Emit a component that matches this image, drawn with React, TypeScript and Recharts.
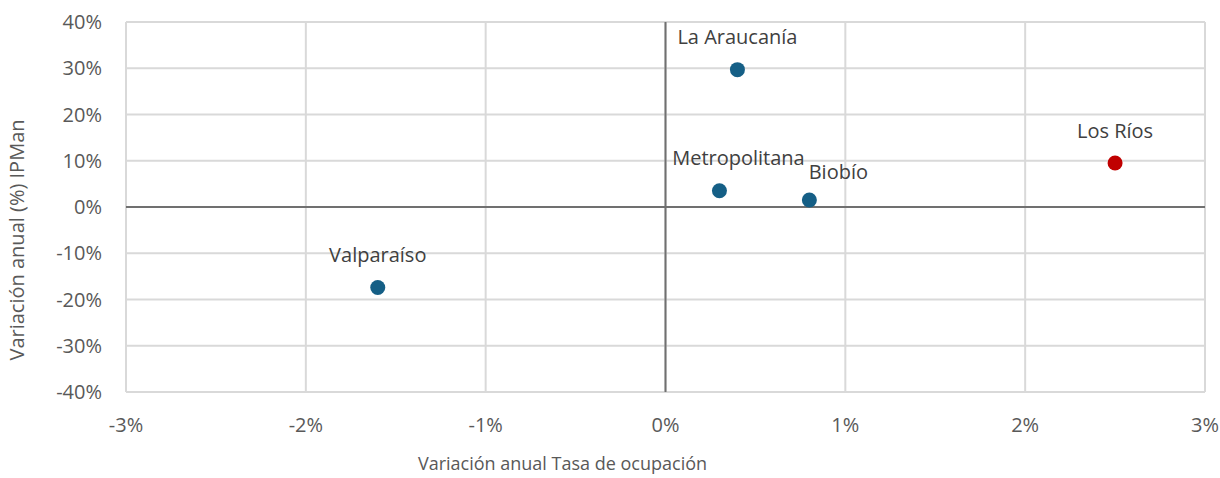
import { ScatterChart, Scatter, XAxis, YAxis, CartesianGrid, ReferenceLine, LabelList } from 'recharts'

const regions = ['La Araucanía', 'Metropolitana', 'Biobío', 'Los Ríos', 'Valparaíso']
const ocupacion = [0.4, 0.3, 0.8, 2.5, -1.6]
const ipman = [29.7, 3.5, 1.5, 9.5, -17.4]
const highlighted = ['Los Ríos']

const xTicks = [-3, -2, -1, 0, 1, 2, 3]
const yTicks = [-40, -30, -20, -10, 0, 10, 20, 30, 40]

const BLUE = '#155f86'
const RED = '#c00000'
const FONT = '"Open Sans", "Noto Sans", sans-serif'

// small label nudges so text doesn't overlap like in the original
const labelNudge: Record<string, [number, number]> = {
  Metropolitana: [19, 0],
  Biobío: [29, 4],
}

const data = regions.map((name, i) => ({ name, x: ocupacion[i], y: ipman[i] }))

const pct = (v: number) => `${v}%`

function Dot(props: any) {
  const { cx, cy, payload } = props
  return <circle cx={cx} cy={cy} r={7.5} fill={highlighted.includes(payload.name) ? RED : BLUE} />
}

function PointLabel(props: any) {
  const { x, y, width, height, value } = props
  const [dx, dy] = labelNudge[value] || [0, 0]
  const cx = x + width / 2
  const cy = y + height / 2
  return (
    <text
      x={cx + dx}
      y={cy - 33 + dy}
      textAnchor="middle"
      dominantBaseline="central"
      fill="#404040"
      fontSize={20}
      fontFamily={FONT}
    >
      {value}
    </text>
  )
}

export default function App() {
  return (
    <div style={{ position: 'absolute', left: 0, top: 0, background: '#fff' }}>
      <ScatterChart width={1220} height={478} margin={{ top: 22, right: 15, bottom: 0, left: 0 }}>
        <CartesianGrid stroke="#d9d9d9" strokeWidth={2} />
        <XAxis
          type="number"
          dataKey="x"
          domain={[-3, 3]}
          ticks={xTicks}
          tickFormatter={pct}
          axisLine={false}
          tickLine={false}
          tickSize={0}
          tickMargin={26}
          height={86}
          tick={{ fill: '#595959', fontSize: 20, fontFamily: FONT }}
          label={{
            value: 'Variación anual Tasa de ocupación',
            position: 'insideBottom',
            dx: -103,
            dy: -3,
            fill: '#595959',
            fontSize: 18,
            fontFamily: FONT,
          }}
        />
        <YAxis
          type="number"
          dataKey="y"
          domain={[-40, 40]}
          ticks={yTicks}
          tickFormatter={pct}
          axisLine={false}
          tickLine={false}
          tickSize={0}
          tickMargin={24}
          width={126}
          tick={{ fill: '#595959', fontSize: 20, fontFamily: FONT }}
          label={{
            value: 'Variación anual (%)  IPMan',
            angle: -90,
            position: 'insideLeft',
            dx: 12,
            dy: 33,
            fill: '#595959',
            fontSize: 20,
            fontFamily: FONT,
            style: { textAnchor: 'middle', whiteSpace: 'pre' },
          }}
        />
        <ReferenceLine x={0} stroke="#707070" strokeWidth={2} />
        <ReferenceLine y={0} stroke="#707070" strokeWidth={2} />
        <Scatter data={data} shape={<Dot />} isAnimationActive={false}>
          <LabelList dataKey="name" content={<PointLabel />} />
        </Scatter>
      </ScatterChart>
    </div>
  )
}
